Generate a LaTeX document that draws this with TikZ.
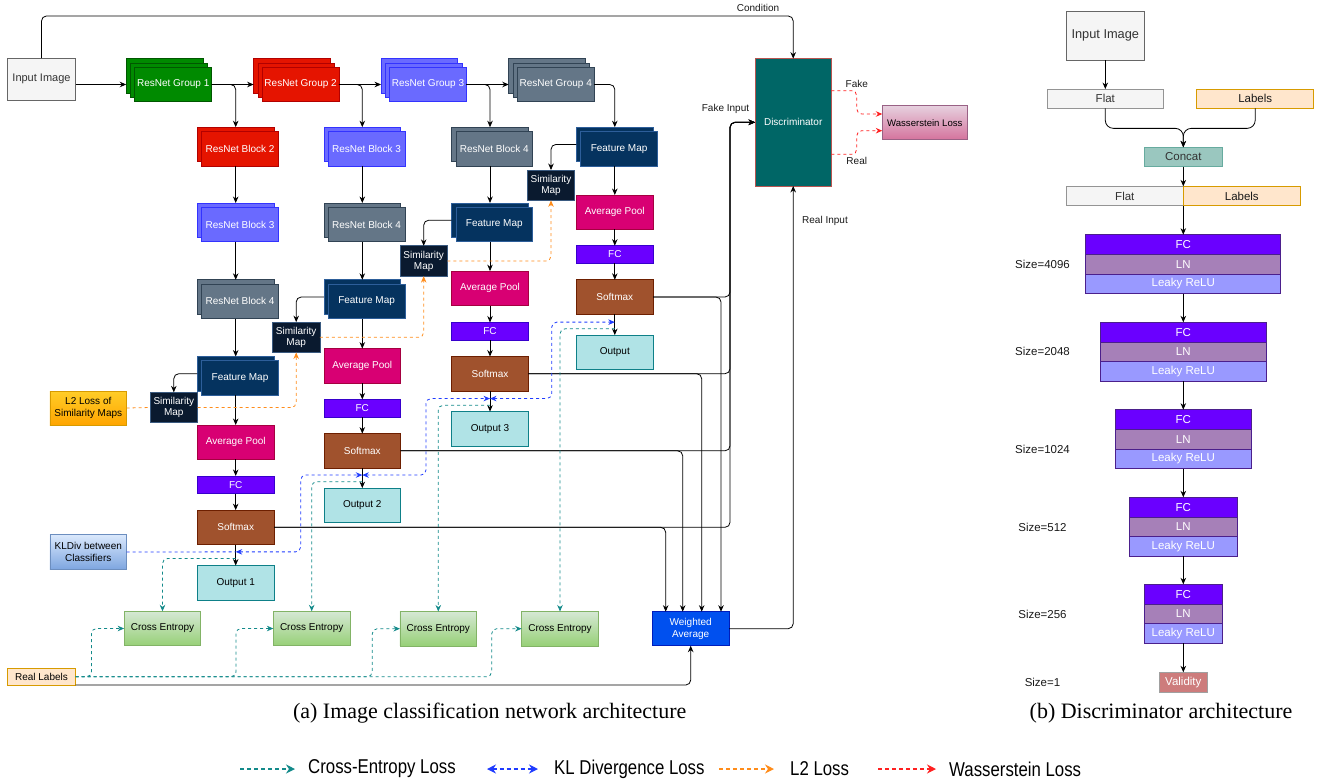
\documentclass[tikz,border=0pt]{standalone}
\usepackage{fontspec}
\setmainfont{Liberation Sans}
\newfontfamily\capfont{Liberation Serif}
\newfontfamily\legfont[FakeStretch=0.84]{Liberation Sans}
\usetikzlibrary{arrows.meta, positioning, shadows, calc}

% Box colours
\definecolor{ingray}{HTML}{F5F5F5}
\definecolor{ingrayD}{HTML}{666666}
\definecolor{ingrayT}{HTML}{333333}
\definecolor{resgreen}{HTML}{008A00}
\definecolor{resgreenD}{HTML}{005700}
\definecolor{resred}{HTML}{E51400}
\definecolor{resredD}{HTML}{B20000}
\definecolor{resblue}{HTML}{6A6AFF}
\definecolor{resblueD}{HTML}{3333FF}
\definecolor{resslate}{HTML}{647687}
\definecolor{resslateD}{HTML}{314354}
\definecolor{fmap}{HTML}{05335F}
\definecolor{fmapD}{HTML}{2D5E9A}
\definecolor{simmap}{HTML}{0A1A2F}
\definecolor{simmapD}{HTML}{3A5A80}
\definecolor{poolc}{HTML}{D80073}
\definecolor{poolD}{HTML}{A50040}
\definecolor{fcv}{HTML}{6A00FF}
\definecolor{fcvD}{HTML}{3700CC}
\definecolor{softc}{HTML}{A0522D}
\definecolor{softD}{HTML}{6D1F00}
\definecolor{outc}{HTML}{B0E3E6}
\definecolor{outD}{HTML}{0E8088}
\definecolor{ceT}{HTML}{D5E8D4}
\definecolor{ceB}{HTML}{97D077}
\definecolor{ceD}{HTML}{82B366}
\definecolor{ltT}{HTML}{FFCD28}
\definecolor{ltB}{HTML}{FFA500}
\definecolor{ltD}{HTML}{D79B00}
\definecolor{klT}{HTML}{DAE8FC}
\definecolor{klB}{HTML}{7EA6E0}
\definecolor{klD}{HTML}{6C8EBF}
\definecolor{labc}{HTML}{FFE6CC}
\definecolor{labD}{HTML}{D79B00}
\definecolor{wavg}{HTML}{0050EF}
\definecolor{wavgD}{HTML}{001DBC}
\definecolor{discc}{HTML}{006666}
\definecolor{discD}{HTML}{B85450}
\definecolor{wsT}{HTML}{E6D0DE}
\definecolor{wsB}{HTML}{D5739D}
\definecolor{wsD}{HTML}{996185}
\definecolor{catc}{HTML}{9AC7BF}
\definecolor{catD}{HTML}{67AB9F}
\definecolor{lnc}{HTML}{A680B8}
\definecolor{reluc}{HTML}{9999FF}
\definecolor{blkD}{HTML}{4B1F8C}
\definecolor{validc}{HTML}{CD7C7C}
\definecolor{validD}{HTML}{A0A0A0}
% Loss line colours
\definecolor{lossteal}{HTML}{138A8A}
\definecolor{lossblue}{HTML}{1F3BFF}
\definecolor{lossorange}{HTML}{FF8C1A}
\definecolor{lossred}{HTML}{FF2020}

\begin{document}
\begin{tikzpicture}[x=1pt, y=-1pt, font=\fontsize{10}{11.5}\selectfont,
        >={Stealth[length=6.5pt, width=5.5pt]},
        box/.style={rectangle, minimum width=76.7pt, minimum height=34.4pt,
            inner sep=0pt, outer sep=0pt, line width=0.8pt, align=center},
        wbox/.style={box, text=white},
        layer2/.style 2 args={wbox, fill=#1, draw=#2,
            copy shadow={shadow xshift=-4.3pt, shadow yshift=4.3pt, fill=#1, draw=#2}},
        layer3/.style 2 args={wbox, fill=#1, draw=#2,
            copy shadow={shadow xshift=-8.6pt, shadow yshift=8.6pt, fill=#1, draw=#2},
            copy shadow={shadow xshift=-4.3pt, shadow yshift=4.3pt, fill=#1, draw=#2}},
        pool/.style={wbox, fill=poolc, draw=poolD},
        fcbox/.style={wbox, fill=fcv, draw=fcvD, minimum height=17.7pt},
        soft/.style={wbox, fill=softc, draw=softD},
        outbox/.style={box, fill=outc, draw=outD},
        simbox/.style={wbox, fill=simmap, draw=simmapD, minimum width=47.5pt,
            minimum height=30.3pt, font=\fontsize{10}{11}\selectfont},
        cebox/.style={box, top color=ceT, bottom color=ceB, draw=ceD},
        lbl/.style={inner sep=0pt, text=black!90},
        conn/.style={->, line width=0.8pt, rounded corners=5pt},
        celine/.style={->, draw=lossteal, line width=0.8pt,
            dash pattern=on 3pt off 3pt, rounded corners=5pt},
        klline/.style={<->, draw=lossblue, line width=0.8pt,
            dash pattern=on 3pt off 3pt, rounded corners=5pt},
        ltline/.style={->, draw=lossorange, line width=0.8pt,
            dash pattern=on 3pt off 3pt, rounded corners=5pt},
        wline/.style={->, draw=lossred, line width=0.8pt,
            dash pattern=on 3pt off 3pt, rounded corners=5pt},
        dfont/.style={font=\fontsize{11.5}{13}\selectfont},
        flatrow/.style={box, dfont, fill=ingray, draw=ingrayD!70, text=ingrayT,
            minimum width=116.7pt, minimum height=19.3pt},
        labrow/.style={box, dfont, fill=labc, draw=labD, text=black!90,
            minimum width=117pt, minimum height=19.3pt},
        fcrow/.style={wbox, dfont, fill=fcv, draw=blkD, minimum height=19.6pt},
        lnrow/.style={wbox, dfont, fill=lnc, draw=blkD, minimum height=19.6pt},
        relurow/.style={wbox, dfont, fill=reluc, draw=blkD, minimum height=19.6pt},
        sizelbl/.style={lbl, dfont},
        legtext/.style={inner sep=0pt, anchor=west, font=\legfont\fontsize{20}{22}\selectfont},
        legline/.style={line width=1.2pt, dash pattern=on 4pt off 3pt}
    ]
    \useasboundingbox (0,0) rectangle (1334,782);

    % Input and ResNet groups
    \node[box, fill=ingray, draw=ingrayD, text=ingrayT, minimum width=68.4pt,
        minimum height=42pt, font=\fontsize{11}{13}\selectfont] (img) at (41.5,79) {Input Image};
    \node[layer3={resgreen}{resgreenD}] (g1) at (173.2,84.5) {ResNet Group 1};
    \node[layer3={resred}{resredD}] (g2) at (300.6,84.5) {ResNet Group 2};
    \node[layer3={resblue}{resblueD}] (g3) at (428,84.5) {ResNet Group 3};
    \node[layer3={resslate}{resslateD}] (g4) at (555.7,84.5) {ResNet Group 4};

    % Classifier 1
    \node[layer2={resred}{resredD}] (b12) at (240,148.7) {ResNet Block 2};
    \node[layer2={resblue}{resblueD}] (b13) at (240,224.5) {ResNet Block 3};
    \node[layer2={resslate}{resslateD}] (b14) at (240,301.3) {ResNet Block 4};
    \node[layer2={fmap}{fmapD}] (fm1) at (240,378) {Feature Map};
    \node[simbox] (sim1) at (173.8,407.5) {Similarity\\Map};
    \node[pool] (ap1) at (235.7,442.2) {Average Pool};
    \node[fcbox] (fc1) at (235.7,484.8) {FC};
    \node[soft] (sm1) at (235.7,527.3) {Softmax};
    \node[outbox] (out1) at (235.7,582.7) {Output 1};

    % Classifier 2
    \node[layer2={resblue}{resblueD}] (b23) at (366.6,148.7) {ResNet Block 3};
    \node[layer2={resslate}{resslateD}] (b24) at (366.6,224.5) {ResNet Block 4};
    \node[layer2={fmap}{fmapD}] (fm2) at (366.6,301.3) {Feature Map};
    \node[simbox] (sim2) at (296.2,337.3) {Similarity\\Map};
    \node[pool] (ap2) at (362.3,365.8) {Average Pool};
    \node[fcbox] (fc2) at (362.3,408.3) {FC};
    \node[soft] (sm2) at (362.3,450.8) {Softmax};
    \node[outbox] (out2) at (362.3,505.3) {Output 2};

    % Classifier 3
    \node[layer2={resslate}{resslateD}] (b34) at (494.3,148.7) {ResNet Block 4};
    \node[layer2={fmap}{fmapD}] (fm3) at (494.3,224.5) {Feature Map};
    \node[simbox] (sim3) at (423.7,261) {Similarity\\Map};
    \node[pool] (ap3) at (490,288.3) {Average Pool};
    \node[fcbox] (fc3) at (490,331.3) {FC};
    \node[soft] (sm3) at (490,373.7) {Softmax};
    \node[outbox] (out3) at (490,428.8) {Output 3};

    % Classifier 4
    \node[layer2={fmap}{fmapD}] (fm4) at (619.1,148.7) {Feature Map};
    \node[simbox] (sim4) at (551,185.2) {Similarity\\Map};
    \node[pool] (ap4) at (614.8,212.2) {Average Pool};
    \node[fcbox] (fc4) at (614.8,254.5) {FC};
    \node[soft] (sm4) at (614.8,297) {Softmax};
    \node[outbox] (out4) at (614.8,352.3) {Output};

    % Losses, labels, discriminator
    \node[box, top color=ltT, bottom color=ltB, draw=ltD, minimum height=34pt] (l2) at (88.3,408) {L2 Loss of\\Similarity Maps};
    \node[box, top color=klT, bottom color=klB, draw=klD, minimum height=34.6pt] (kld) at (88.3,552) {KLDiv between\\Classifiers};
    \node[cebox] (ce1) at (162.5,628.5) {Cross Entropy};
    \node[cebox] (ce2) at (311.7,628.5) {Cross Entropy};
    \node[cebox] (ce3) at (438.3,628.7) {Cross Entropy};
    \node[cebox] (ce4) at (560,628.7) {Cross Entropy};
    \node[box, fill=labc, draw=labD, minimum width=68.4pt, minimum height=16.7pt] (rlab) at (41.5,676.7) {Real Labels};
    \node[wbox, fill=wavg, draw=wavgD, minimum height=34pt] (wavg) at (690.7,628.7) {Weighted\\Average};
    \node[wbox, fill=discc, draw=discD, minimum width=76.3pt, minimum height=127.3pt] (disc) at (793.2,122.3) {Discriminator};
    \node[box, top color=wsT, bottom color=wsB, draw=wsD, minimum width=85pt, minimum height=34pt,
        font=\fontsize{9.6}{11}\selectfont] (wass) at (924.8,122.7) {Wasserstein Loss};

    % Backbone arrows
    \draw[conn] (img.east |- g1) -- ([xshift=-8.6pt]g1.west);
    \draw[conn] (g1.east) -- ([xshift=-8.6pt]g2.west);
    \draw[conn] (g2.east) -- ([xshift=-8.6pt]g3.west);
    \draw[conn] (g3.east) -- ([xshift=-8.6pt]g4.west);
    \draw[conn] (g1.east) -| ([shift={(-4.3pt,4.3pt)}]b12.north);
    \draw[conn] (g2.east) -| ([shift={(-4.3pt,4.3pt)}]b23.north);
    \draw[conn] (g3.east) -| ([shift={(-4.3pt,4.3pt)}]b34.north);
    \draw[conn] (g4.east) -| ([shift={(-4.3pt,4.3pt)}]fm4.north);

    % Column arrows
    \draw[conn] ([xshift=-4.3pt]b12.south) -- ([shift={(-4.3pt,4.3pt)}]b13.north);
    \draw[conn] ([xshift=-4.3pt]b13.south) -- ([shift={(-4.3pt,4.3pt)}]b14.north);
    \draw[conn] ([xshift=-4.3pt]b14.south) -- ([shift={(-4.3pt,4.3pt)}]fm1.north);
    \draw[conn] ([xshift=-4.3pt]fm1.south) -- (ap1.north);
    \draw[conn] (ap1.south) -- (fc1.north);
    \draw[conn] (fc1.south) -- (sm1.north);
    \draw[conn] (sm1.south) -- (out1.north);

    \draw[conn] ([xshift=-4.3pt]b23.south) -- ([shift={(-4.3pt,4.3pt)}]b24.north);
    \draw[conn] ([xshift=-4.3pt]b24.south) -- ([shift={(-4.3pt,4.3pt)}]fm2.north);
    \draw[conn] ([xshift=-4.3pt]fm2.south) -- (ap2.north);
    \draw[conn] (ap2.south) -- (fc2.north);
    \draw[conn] (fc2.south) -- (sm2.north);
    \draw[conn] (sm2.south) -- (out2.north);

    \draw[conn] ([xshift=-4.3pt]b34.south) -- ([shift={(-4.3pt,4.3pt)}]fm3.north);
    \draw[conn] ([xshift=-4.3pt]fm3.south) -- (ap3.north);
    \draw[conn] (ap3.south) -- (fc3.north);
    \draw[conn] (fc3.south) -- (sm3.north);
    \draw[conn] (sm3.south) -- (out3.north);

    \draw[conn] ([xshift=-4.3pt]fm4.south) -- (ap4.north);
    \draw[conn] (ap4.south) -- (fc4.north);
    \draw[conn] (fc4.south) -- (sm4.north);
    \draw[conn] (sm4.south) -- (out4.north);

    % Feature maps to similarity maps
    \draw[conn] ([shift={(-4.3pt,4.3pt)}]fm1.west) -| (sim1.north);
    \draw[conn] ([shift={(-4.3pt,4.3pt)}]fm2.west) -| (sim2.north);
    \draw[conn] ([shift={(-4.3pt,4.3pt)}]fm3.west) -| (sim3.north);
    \draw[conn] ([shift={(-4.3pt,4.3pt)}]fm4.west) -| (sim4.north);

    % Softmax outputs to weighted average and discriminator
    \draw[conn] (sm1.east) -| ([xshift=-25pt]wavg.north);
    \draw[conn] (sm2.east) -| ([xshift=-8pt]wavg.north);
    \draw[conn] (sm3.east) -| ([xshift=11pt]wavg.north);
    \draw[conn] (sm4.east) -| ([xshift=30.3pt]wavg.north);
    \draw[conn] (sm1.east) -| ([xshift=-25pt]disc.west) -- (disc.west);
    \draw[conn] (sm2.east) -| ([xshift=-25pt]disc.west) -- (disc.west);
    \draw[conn] (sm3.east) -| ([xshift=-25pt]disc.west) -- (disc.west);
    \draw[conn] (sm4.east) -| ([xshift=-25pt]disc.west) -- (disc.west);
    \draw[conn] (wavg.east) -| (disc.south);
    \draw[conn] (rlab.south east) -| (wavg.south);
    \draw[conn] (img.north) |- ([yshift=42.7pt]disc.north) -- (disc.north);
    \node[lbl] (cond) at (758,8) {Condition};
    \node[lbl] (fakein) at (725.5,109.3) {Fake Input};
    \node[lbl] (realin) at (825,220.7) {Real Input};

    % Wasserstein loss
    \draw[wline] ([yshift=31.6pt]disc.east) -- ++(25.4,0) node[lbl, above=3pt] (fake) {Fake} |- ([yshift=8.7pt]wass.west);
    \draw[wline] ([yshift=-32pt]disc.east) -- ++(25.4,0) node[lbl, below=3pt] (real) {Real} |- ([yshift=-8pt]wass.west);

    % L2 loss of similarity maps
    \draw[ltline, -] (l2.east) -- (sim1.west);
    \draw[ltline] (sim1.east) -| (sim2.south);
    \draw[ltline] (sim2.east) -| (sim3.south);
    \draw[ltline] (sim3.east) -| (sim4.south);

    % KL divergence between classifiers
    \coordinate (kp1) at ($(sm1.south)!0.35!(out1.north)$);
    \coordinate (kp2) at ($(sm2.south)!0.35!(out2.north)$);
    \coordinate (kp3) at ($(sm3.south)!0.37!(out3.north)$);
    \coordinate (kp4) at ($(sm4.south)!0.38!(out4.north)$);
    \draw[klline, -] (kld.east) -- (kp1);
    \draw[klline] (kp1) -| ([xshift=-61.6pt]kp2) -- (kp2);
    \draw[klline] (kp2) -| ([xshift=-64pt]kp3) -- (kp3);
    \draw[klline] (kp3) -| ([xshift=-63.1pt]kp4) -- (kp4);

    % Cross entropy
    \coordinate (cp1) at ($(sm1.south)!0.67!(out1.north)$);
    \coordinate (cp2) at ($(sm2.south)!0.68!(out2.north)$);
    \coordinate (cp3) at ($(sm3.south)!0.69!(out3.north)$);
    \coordinate (cp4) at ($(sm4.south)!0.70!(out4.north)$);
    \draw[celine] (cp1) -| (ce1.north);
    \draw[celine] (cp2) -| (ce2.north);
    \draw[celine] (cp3) -| (ce3.north);
    \draw[celine] (cp4) -| (ce4.north);
    \draw[celine] (rlab.east) -| ([xshift=-32.6pt]ce1.west) -- (ce1.west);
    \draw[celine] (rlab.east) -| ([xshift=-37.3pt]ce2.west) -- (ce2.west);
    \draw[celine] (rlab.east) -| ([xshift=-27.7pt]ce3.west) -- (ce3.west);
    \draw[celine] (rlab.east) -| ([xshift=-30pt]ce4.west) -- (ce4.west);

    % Discriminator architecture
    \node[box, fill=ingray, draw=ingrayD, text=ingrayT, minimum width=78pt, minimum height=48.7pt,
        font=\fontsize{12.8}{14}\selectfont] (dimg) at (1105.3,35.7) {Input Image};
    \node[flatrow] (dflat) at (1105.3,98.7) {Flat};
    \node[labrow] (dlab) at (1255.2,98.7) {Labels};
    \node[box, dfont, fill=catc, draw=catD, text=ingrayT, minimum width=78pt, minimum height=19.3pt] (dcat) at (1183.3,157) {Concat};
    \node[flatrow, minimum width=117pt] (vflat) at (1124.8,196) {Flat};
    \node[labrow] (vlab) at (1241.8,196) {Labels};

    \node[fcrow, minimum width=195pt] (dfc1) at (1183.3,244.5) {FC};
    \node[lnrow, minimum width=195pt, below=0pt of dfc1] (dln1) {LN};
    \node[relurow, minimum width=195pt, below=0pt of dln1] (drl1) {Leaky ReLU};
    \node[fcrow, minimum width=166pt] (dfc2) at (1183.3,332.1) {FC};
    \node[lnrow, minimum width=166pt, below=0pt of dfc2] (dln2) {LN};
    \node[relurow, minimum width=166pt, below=0pt of dln2] (drl2) {Leaky ReLU};
    \node[fcrow, minimum width=136.7pt] (dfc3) at (1183.3,419.5) {FC};
    \node[lnrow, minimum width=136.7pt, below=0pt of dfc3] (dln3) {LN};
    \node[relurow, minimum width=136.7pt, below=0pt of dln3] (drl3) {Leaky ReLU};
    \node[fcrow, minimum width=107.3pt] (dfc4) at (1183.3,507.1) {FC};
    \node[lnrow, minimum width=107.3pt, below=0pt of dfc4] (dln4) {LN};
    \node[relurow, minimum width=107.3pt, below=0pt of dln4] (drl4) {Leaky ReLU};
    \node[fcrow, minimum width=78pt] (dfc5) at (1183.3,594.1) {FC};
    \node[lnrow, minimum width=78pt, below=0pt of dfc5] (dln5) {LN};
    \node[relurow, minimum width=78pt, below=0pt of dln5] (drl5) {Leaky ReLU};
    \node[wbox, dfont, fill=validc, draw=validD, minimum width=48.7pt, minimum height=20pt] (valid) at (1183.3,682.3) {Validity};

    \node[sizelbl] (sz1) at (1042.5,264.3) {Size=4096};
    \node[sizelbl] (sz2) at (1042.5,351.7) {Size=2048};
    \node[sizelbl] (sz3) at (1042.5,449) {Size=1024};
    \node[sizelbl] (sz4) at (1042.5,527) {Size=512};
    \node[sizelbl] (sz5) at (1042.5,614.3) {Size=256};
    \node[sizelbl] (sz6) at (1042.5,682.3) {Size=1};

    \draw[conn] (dimg.south) -- (dflat.north);
    \draw[conn, rounded corners=8pt] (dflat.south) -- ++(0,20) -| (dcat.north);
    \draw[conn, rounded corners=8pt] (dlab.south) -- ++(0,20) -| (dcat.north);
    \draw[conn] (dcat.south) -- (vflat.north east);
    \draw[conn] (vflat.south east) -- (dfc1.north);
    \draw[conn] (drl1.south) -- (dfc2.north);
    \draw[conn] (drl2.south) -- (dfc3.north);
    \draw[conn] (drl3.south) -- (dfc4.north);
    \draw[conn] (drl4.south) -- (dfc5.north);
    \draw[conn] (drl5.south) -- (valid.north);

    % Captions
    \node[inner sep=0pt, font=\capfont\fontsize{22}{25}\selectfont] (capa) at (489.7,713) {(a) Image classification network architecture};
    \node[inner sep=0pt, font=\capfont\fontsize{22}{25}\selectfont] (capb) at (1161,713) {(b) Discriminator architecture};

    % Legend
    \coordinate (lg1a) at (240,769);
    \coordinate (lg1b) at (295,769);
    \coordinate (lg2a) at (487,769);
    \coordinate (lg2b) at (538,769);
    \coordinate (lg3a) at (719,769);
    \coordinate (lg3b) at (774,769);
    \coordinate (lg4a) at (878,769);
    \coordinate (lg4b) at (936,769);
    \draw[celine, legline, -{Stealth[length=9pt, width=9pt]}] (lg1a) -- (lg1b);
    \draw[klline, legline, {Stealth[length=9pt, width=9pt]}-{Stealth[length=9pt, width=9pt]}] (lg2a) -- (lg2b);
    \draw[ltline, legline, -{Stealth[length=9pt, width=9pt]}] (lg3a) -- (lg3b);
    \draw[wline, legline, -{Stealth[length=9pt, width=9pt]}] (lg4a) -- (lg4b);
    \node[legtext, right=13pt of lg1b] (lg1t) {Cross-Entropy Loss};
    \node[legtext, right=16pt of lg2b] (lg2t) {KL Divergence Loss};
    \node[legtext, right=16pt of lg3b] (lg3t) {L2 Loss};
    \node[legtext, right=13pt of lg4b] (lg4t) {Wasserstein Loss};
\end{tikzpicture}
\end{document}
